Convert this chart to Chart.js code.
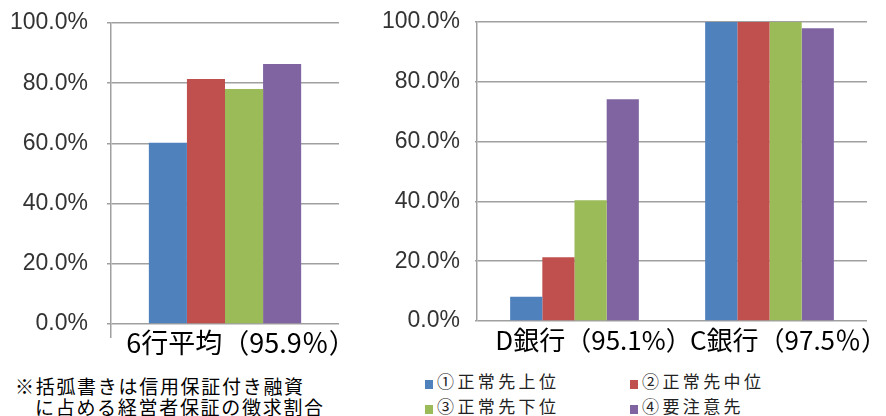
<!DOCTYPE html>
<html>
<head>
<meta charset="utf-8">
<script src="https://cdn.jsdelivr.net/npm/chart.js@4/dist/chart.umd.min.js"></script>
<style>
  html, body { margin: 0; padding: 0; background: #fff; }
  body { width: 886px; height: 416px; position: relative; overflow: hidden; font-family: "Noto Sans CJK JP", sans-serif; }
  #leftWrap { position: absolute; left: 0; top: 0; }
  #rightWrap { position: absolute; left: 380px; top: 0; }
  #note { position: absolute; left: 15px; top: 376px; font-size: 19px; line-height: 20.5px; letter-spacing: 1.7px; color: #000; white-space: nowrap; }
  #note .l2 { padding-left: 20px; }
  #legend { position: absolute; left: 425px; top: 368px; }
  .item { position: absolute; white-space: nowrap; font-size: 17px; letter-spacing: 3.4px; color: #222; line-height: 25px; height: 25px; }
  .item .sw { display: inline-block; width: 8px; height: 9px; margin-right: 4px; vertical-align: -0.5px; }
</style>
</head>
<body>
<div id="leftWrap"><canvas id="cLeft" width="350" height="360"></canvas></div>
<div id="rightWrap"><canvas id="cRight" width="506" height="360"></canvas></div>
<div id="note"><div>※括弧書きは信用保証付き融資</div><div class="l2">に占める経営者保証の徴求割合</div></div>
<div id="legend"></div>
<script>
// ---- data ----
const seriesNames = ['①正常先上位', '②正常先中位', '③正常先下位', '④要注意先'];
const seriesColors = ['#4F81BD', '#C0504D', '#9BBB59', '#8064A2'];
const leftCategories = ['6行平均（95.9％）'];
const rightCategories = ['D銀行（95.1%）', 'C銀行（97.5％）'];
const avgValues = [60.2, 81.4, 78.1, 86.4];      // 6行平均
const bankDValues = [8.1, 21.3, 40.4, 74.2];     // D銀行
const bankCValues = [100, 100, 100, 97.9];       // C銀行
const yTicks = [0, 20, 40, 60, 80, 100];

const gridColor = '#a0a0a0';

function makeYScale(tickLen, pad, width) {
  return {
    min: 0, max: 100,
    afterBuildTicks: s => { s.ticks = yTicks.map(v => ({ value: v })); },
    afterFit: s => { s.width = width; },
    ticks: {
      padding: pad,
      color: '#333',
      font: { family: '"Liberation Sans", Arial, sans-serif', size: 23, lineHeight: 0.3 },
      callback: v => Number(v).toFixed(1) + '%'
    },
    grid: { color: gridColor, lineWidth: 1.5, tickLength: tickLen },
    border: { display: true, color: gridColor, width: 1.5 }
  };
}

function makeChart(id, categories, valuesPerCat, opts) {
  const datasets = seriesNames.map((name, i) => ({
    label: name,
    data: valuesPerCat.map(arr => arr[i]),
    backgroundColor: seriesColors[i],
    borderWidth: 0,
    categoryPercentage: opts.catPct,
    barPercentage: 1.0
  }));
  return new Chart(document.getElementById(id), {
    type: 'bar',
    data: { labels: categories, datasets },
    options: {
      responsive: false,
      animation: false,
      devicePixelRatio: 1,
      layout: { padding: opts.padding },
      plugins: { legend: { display: false }, tooltip: { enabled: false } },
      scales: {
        x: {
          afterFit: s => { s.height = opts.xHeight; },
          ticks: {
            padding: opts.xPad,
            labelOffset: opts.labelOffset,
            color: '#000',
            font: { family: '"Noto Sans CJK JP", sans-serif', size: opts.labelSize },
            maxRotation: 0, autoSkip: false
          },
          grid: opts.xGrid,
          border: { display: false }
        },
        y: makeYScale(opts.yTickLen, opts.yPad, opts.yWidth)
      }
    }
  });
}

makeChart('cLeft', leftCategories, [avgValues], {
  catPct: 0.668,
  padding: { top: 23, right: 11, left: 0, bottom: 0 },
  xHeight: 36, xPad: -11, labelOffset: 16, labelSize: 27,
  xGrid: { display: true, drawOnChartArea: false, tickLength: 14, lineWidth: 1.5,
           color: c => c.index === 0 ? gridColor : 'rgba(0,0,0,0)' },
  yTickLen: 4, yPad: 19, yWidth: 111
});

makeChart('cRight', rightCategories, [bankDValues, bankCValues], {
  catPct: 0.66,
  padding: { top: 22, right: 19, left: 0, bottom: 0 },
  xHeight: 39, xPad: 4, labelOffset: 19, labelSize: 26,
  xGrid: { display: false, drawTicks: false, tickLength: 0 },
  yTickLen: 2, yPad: 15, yWidth: 97
});

// ---- legend (2 columns) ----
const legend = document.getElementById('legend');
const colX = [0, 205];
seriesNames.forEach((name, i) => {
  const d = document.createElement('div');
  d.className = 'item';
  d.style.left = colX[i % 2] + 'px';
  d.style.top = (Math.floor(i / 2) * 25) + 'px';
  const sw = document.createElement('span');
  sw.className = 'sw';
  sw.style.background = seriesColors[i];
  d.appendChild(sw);
  d.appendChild(document.createTextNode(name));
  legend.appendChild(d);
});
</script>
</body>
</html>
